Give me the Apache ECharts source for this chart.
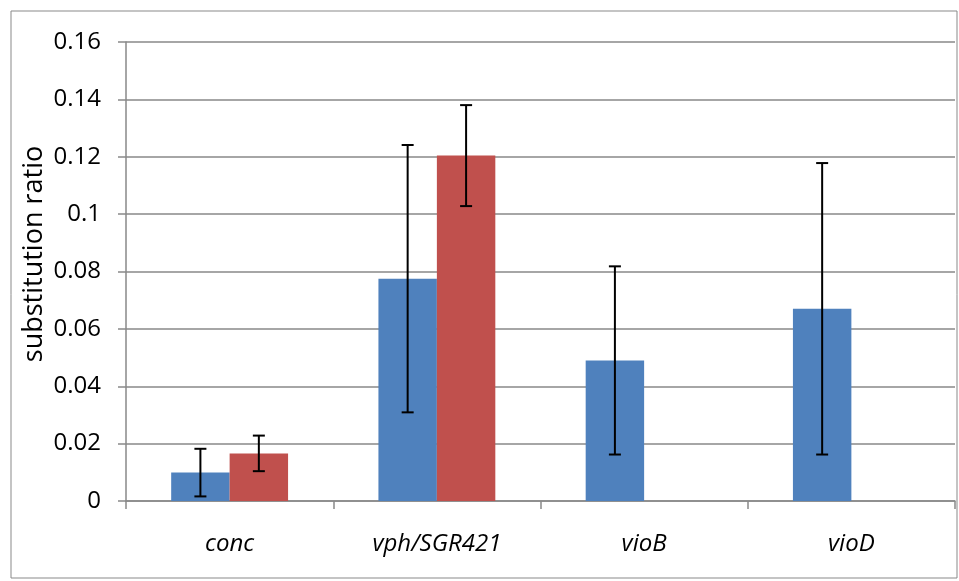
<!DOCTYPE html>
<html>
<head>
<meta charset="utf-8">
<script src="https://cdn.jsdelivr.net/npm/echarts@6/dist/echarts.min.js"></script>
<style>
  html, body { margin: 0; padding: 0; background: #fff; }
  #chart { width: 959px; height: 581px; }
</style>
</head>
<body>
<div id="chart"></div>
<script>
// Gene groups on the x axis
const categories = ['conc', 'vph/SGR421', 'vioB', 'vioD'];
// Mean substitution ratios for the two series (null = no bar)
const blueValues = [0.0099, 0.0775, 0.049, 0.067];
const redValues = [0.0166, 0.1204, null, null];
// Half-widths of the error bars (± around the mean)
const blueErrors = [0.0083, 0.0466, 0.0328, 0.0508];
const redErrors = [0.0062, 0.0176, null, null];
// Y axis ticks
const yTicks = [0, 0.02, 0.04, 0.06, 0.08, 0.1, 0.12, 0.14, 0.16];
const yTitle = 'substitution ratio';

const BLUE = '#4F81BD';
const RED = '#C0504D';
const GRID_GRAY = '#898989';
const FONT = 'Open Sans';

const BAR_CATEGORY_GAP = 0.436;

function errorData(values, errors) {
  return categories.map((c, i) =>
    values[i] == null ? [i, null, null] : [i, values[i] - errors[i], values[i] + errors[i]]);
}

function makeErrorRenderer(side) {
  return function (params, api) {
    const lo = api.value(1);
    const hi = api.value(2);
    if (lo == null || hi == null || isNaN(lo)) return null;
    const catW = api.size([1, 0])[0];
    const barW = catW * (1 - BAR_CATEGORY_GAP) / 2;
    const center = api.coord([api.value(0), 0])[0];
    const x = center + side * barW / 2;
    const yLo = api.coord([api.value(0), lo])[1];
    const yHi = api.coord([api.value(0), hi])[1];
    const cap = 6;
    const style = { stroke: '#000', lineWidth: 2 };
    return {
      type: 'group',
      children: [
        { type: 'line', shape: { x1: x, y1: yLo, x2: x, y2: yHi }, style },
        { type: 'line', shape: { x1: x - cap, y1: yHi, x2: x + cap, y2: yHi }, style },
        { type: 'line', shape: { x1: x - cap, y1: yLo, x2: x + cap, y2: yLo }, style }
      ]
    };
  };
}

const chart = echarts.init(document.getElementById('chart'), null, { renderer: 'canvas' });

chart.setOption({
  animation: false,
  backgroundColor: '#fff',
  graphic: [
    {
      // outer chart frame
      type: 'rect',
      shape: { x: 11, y: 11, width: 946, height: 567 },
      style: { fill: 'none', stroke: GRID_GRAY, lineWidth: 1 },
      silent: true,
      z: -1
    },
    {
      // vertical axis title
      type: 'text',
      x: 34,
      y: 254,
      rotation: Math.PI / 2,
      style: {
        text: yTitle,
        fontFamily: FONT,
        fontSize: 27,
        fill: '#000',
        align: 'center',
        verticalAlign: 'middle'
      },
      silent: true
    }
  ],
  grid: { left: 126, right: 4, top: 42, bottom: 80 },
  xAxis: {
    type: 'category',
    data: categories,
    axisLine: { lineStyle: { color: GRID_GRAY, width: 1.5 } },
    axisTick: { show: true, length: 8, lineStyle: { color: GRID_GRAY, width: 1.5 } },
    axisLabel: {
      fontFamily: FONT, fontSize: 24, fontStyle: 'italic', color: '#000', margin: 31
    }
  },
  yAxis: {
    type: 'value',
    min: yTicks[0],
    max: yTicks[yTicks.length - 1],
    interval: yTicks[1] - yTicks[0],
    axisLine: { show: true, lineStyle: { color: GRID_GRAY, width: 1.5 } },
    axisTick: { show: true, length: 8, lineStyle: { color: GRID_GRAY, width: 1.5 } },
    splitLine: { lineStyle: { color: GRID_GRAY, width: 1.5 } },
    axisLabel: {
      fontFamily: FONT, fontSize: 24, color: '#000', margin: 25,
      formatter: v => String(Math.round(v * 100) / 100)
    }
  },
  series: [
    {
      type: 'bar', data: blueValues, barGap: '0%',
      barCategoryGap: (BAR_CATEGORY_GAP * 100) + '%',
      itemStyle: { color: BLUE }
    },
    {
      type: 'bar', data: redValues, barGap: '0%',
      barCategoryGap: (BAR_CATEGORY_GAP * 100) + '%',
      itemStyle: { color: RED }
    },
    {
      type: 'custom', renderItem: makeErrorRenderer(-1),
      data: errorData(blueValues, blueErrors), z: 10,
      encode: { x: 0, y: [1, 2] }
    },
    {
      type: 'custom', renderItem: makeErrorRenderer(1),
      data: errorData(redValues, redErrors), z: 10,
      encode: { x: 0, y: [1, 2] }
    }
  ]
});
</script>
</body>
</html>
